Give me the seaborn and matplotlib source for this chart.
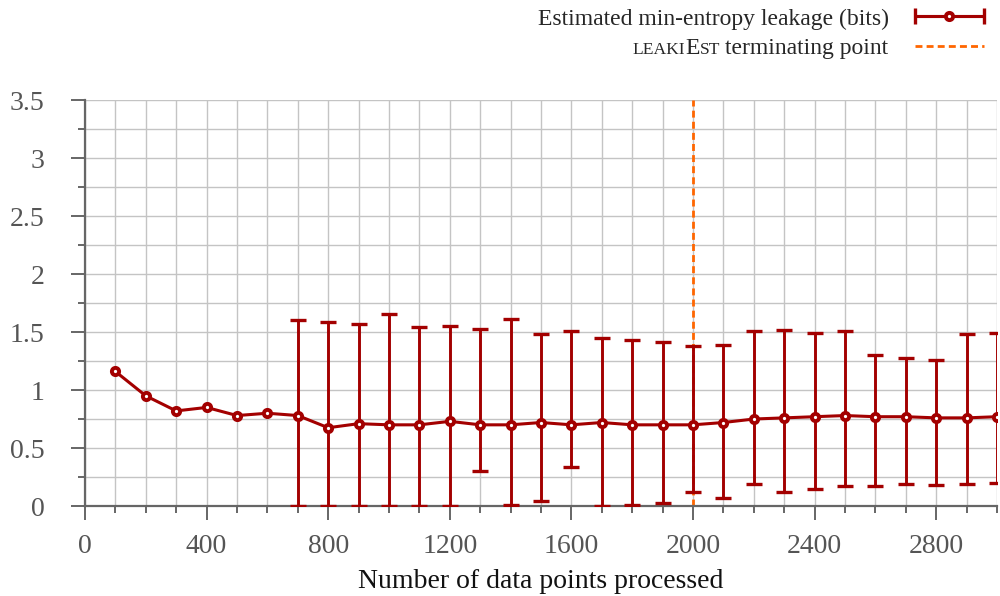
import matplotlib
matplotlib.use('Agg')
import matplotlib.pyplot as plt
import numpy as np
import pandas as pd
import seaborn as sns
from matplotlib.collections import LineCollection
from matplotlib.container import ErrorbarContainer
from matplotlib.legend_handler import HandlerErrorbar
from matplotlib.lines import Line2D
from matplotlib.ticker import MultipleLocator
from matplotlib.transforms import IdentityTransform

# Values.
points = list(range(100, 3100, 100))
leakage = [1.16, 0.95, 0.82, 0.85, 0.78, 0.80, 0.78, 0.675, 0.71, 0.70,
           0.70, 0.73, 0.70, 0.70, 0.72, 0.70, 0.72, 0.70, 0.70, 0.70,
           0.72, 0.75, 0.76, 0.77, 0.78, 0.77, 0.77, 0.76, 0.76, 0.77]
err_points = list(range(700, 3100, 100))
err_low = [0, 0, 0, 0, 0, 0, 0.30, 0.01, 0.04, 0.34, 0, 0.005,
           0.03, 0.12, 0.07, 0.19, 0.12, 0.15, 0.17, 0.17, 0.19, 0.18, 0.19, 0.20]
err_high = [1.60, 1.59, 1.57, 1.66, 1.54, 1.55, 1.53, 1.61, 1.48, 1.51, 1.45, 1.43,
            1.41, 1.38, 1.39, 1.51, 1.52, 1.49, 1.51, 1.30, 1.28, 1.26, 1.48, 1.49]
terminate_at = 2000

red = '#a30000'
orange = '#ff6600'
grey = '#666666'
fs = 20

sns.set_style('white')
plt.rcParams['font.family'] = ['Liberation Serif', 'DejaVu Serif']

df = pd.DataFrame({'n': points, 'leak': leakage})
errdf = pd.DataFrame({'n': err_points, 'lo': err_low, 'hi': err_high})
errdf['mid'] = df.set_index('n').loc[err_points, 'leak'].values

fig = plt.figure(figsize=(10, 5.96), dpi=100)
ax = fig.add_axes([0.085, 0.151, 0.912, 0.681])

ax.axvline(terminate_at, color=orange, lw=2, dashes=(2.5, 1.5), zorder=2)
ax.errorbar(errdf['n'], errdf['mid'],
            yerr=[errdf['mid'] - errdf['lo'], errdf['hi'] - errdf['mid']],
            fmt='none', ecolor=red, elinewidth=2.1, capsize=5.8, capthick=2.4,
            zorder=3)
sns.lineplot(data=df, x='n', y='leak', color=red, lw=2.2, marker='o',
             markersize=5.2, markerfacecolor='white', markeredgecolor=red,
             markeredgewidth=2.8, ax=ax, zorder=4)

ax.set_xlim(0, 3000)
ax.set_ylim(0, 3.5)
ax.xaxis.set_major_locator(MultipleLocator(400))
ax.xaxis.set_minor_locator(MultipleLocator(100))
ax.yaxis.set_minor_locator(MultipleLocator(0.25))
ax.set_yticks(np.arange(0, 3.6, 0.5))
ax.set_yticklabels(['0', '0.5', '1', '1.5', '2', '2.5', '3', '3.5'])
ax.grid(True, which='both', color='#c4c4c4', lw=1)
ax.set_axisbelow(True)
for s in ['top', 'right']:
    ax.spines[s].set_visible(False)
for s in ['left', 'bottom']:
    ax.spines[s].set_color(grey)
    ax.spines[s].set_linewidth(1.6)
ax.tick_params(which='major', direction='out', length=10, width=1.4,
               color=grey, labelcolor='#555555', labelsize=fs,
               left=True, bottom=True)
ax.tick_params(which='minor', direction='out', length=5, width=1.4,
               color=grey, left=True, bottom=True)
ax.tick_params(axis='y', which='major', pad=19)
ax.tick_params(axis='x', which='major', pad=10)
ax.set_xlabel('Number of data points processed', fontsize=fs,
              color='#111111', labelpad=7)
ax.set_ylabel('')

# Legend: horizontal error-bar handle and dashed line.
proxy_line = Line2D([], [], color=red, lw=2.2, marker='o', markersize=5.2,
                    markerfacecolor='white', markeredgecolor=red,
                    markeredgewidth=2.8)
proxy_cap = Line2D([], [], color=red, lw=0, marker='|', markersize=12,
                   markeredgewidth=2.4)
proxy_bar = LineCollection([], colors=red, linewidths=2.2)
proxy = ErrorbarContainer((proxy_line, (proxy_cap,), (proxy_bar,)),
                          has_xerr=True, has_yerr=False)
dash = Line2D([], [], color=orange, lw=2, dashes=(2.5, 1.5))
leg = ax.legend([proxy, dash],
                ['Estimated min-entropy leakage (bits)', 'terminating point'],
                handler_map={ErrorbarContainer: HandlerErrorbar(xerr_size=1.47)},
                loc='upper right', bbox_to_anchor=(0.986, 1.227), frameon=False,
                markerfirst=False, numpoints=1, handlelength=2.95,
                fontsize=17, labelspacing=0.34, handletextpad=1.1,
                borderaxespad=0, borderpad=0)

# Small caps "leakiEst" in front of the second label.
fig.canvas.draw()
renderer = fig.canvas.get_renderer()
lab = leg.get_texts()[1]
bb = lab.get_window_extent(renderer)
prop = lab.get_fontproperties()
_, _, d = renderer.get_text_width_height_descent('lp', prop, ismath=False)
base = bb.y0 + d
big = prop.get_size_in_points()
small = big * 0.74
xr = bb.x0 - 5
for s, size in [('ST', small), ('E', big), ('LEAKI', small)]:
    t = fig.text(xr, base, s, transform=IdentityTransform(), ha='right',
                 va='baseline', fontsize=size, color=lab.get_color())
    p = t.get_fontproperties()
    w, _, _ = renderer.get_text_width_height_descent(s, p, ismath=False)
    xr -= w + 0.5

fig.savefig('out.png', dpi=100)
